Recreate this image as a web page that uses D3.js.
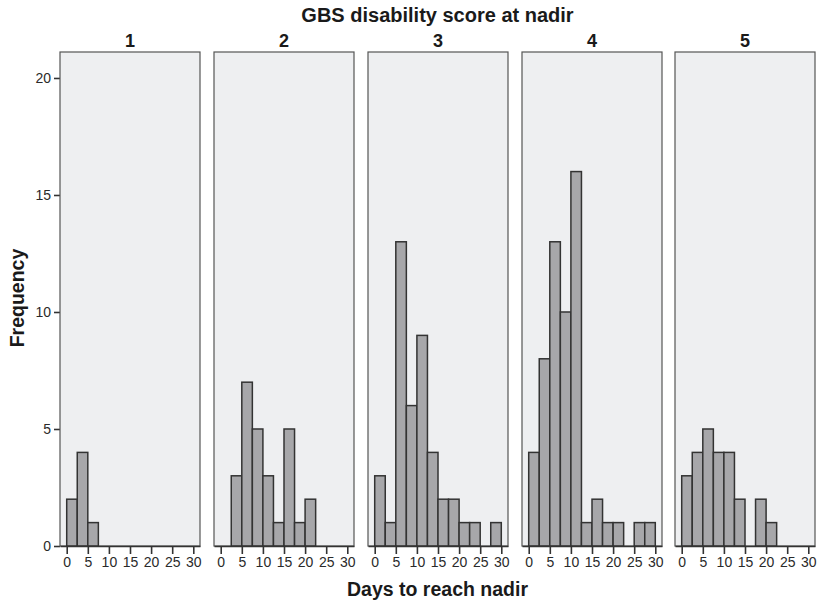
<!DOCTYPE html>
<html>
<head>
<meta charset="utf-8">
<script src="https://cdn.jsdelivr.net/npm/d3@7"></script>
<style>
  body { margin: 0; background: #fff; }
  svg { font-family: "Liberation Sans", Arial, sans-serif; }
</style>
</head>
<body>
<div id="chart"></div>
<script>
// bins are 2.5 days wide, starting at 0
const binStarts = [0, 2.5, 5, 7.5, 10, 12.5, 15, 17.5, 20, 22.5, 25, 27.5];
const binWidth = 2.5;
const scores = ["1", "2", "3", "4", "5"];
const counts1 = [2, 4, 1, 0, 0, 0, 0, 0, 0, 0, 0, 0];
const counts2 = [0, 3, 7, 5, 3, 1, 5, 1, 2, 0, 0, 0];
const counts3 = [3, 1, 13, 6, 9, 4, 2, 2, 1, 1, 0, 1];
const counts4 = [4, 8, 13, 10, 16, 1, 2, 1, 1, 0, 1, 1];
const counts5 = [3, 4, 5, 4, 4, 2, 0, 2, 1, 0, 0, 0];
const xTicks = [0, 5, 10, 15, 20, 25, 30];
const yTicks = [0, 5, 10, 15, 20];

const allCounts = [counts1, counts2, counts3, counts4, counts5];

const W = 817, H = 601;
const panelLefts = [60, 214, 368, 522, 675];
const panelW = 140;
const plotTop = 52, plotBottom = 546;

const svg = d3.select("#chart").append("svg")
    .attr("width", W).attr("height", H);

const y = d3.scaleLinear().domain([0, 21.11]).range([plotBottom, plotTop]);

// overall title
svg.append("text")
    .attr("x", 437.5).attr("y", 22)
    .attr("text-anchor", "middle")
    .attr("font-size", 20).attr("font-weight", "bold").attr("fill", "#1a1a1a")
    .text("GBS disability score at nadir");

// y axis
const yAxis = svg.append("g")
    .attr("transform", "translate(" + panelLefts[0] + ",0)")
    .call(d3.axisLeft(y).tickValues(yTicks).tickSize(6).tickPadding(3).tickSizeOuter(0));
yAxis.select(".domain").remove();
yAxis.selectAll("line").attr("stroke", "#333").attr("stroke-width", 1.6);
yAxis.selectAll("text").attr("font-size", 14).attr("fill", "#2a2a2a")
    .attr("font-family", "Liberation Sans, Arial, sans-serif");

svg.append("text")
    .attr("transform", "translate(24,298) rotate(-90)")
    .attr("text-anchor", "middle")
    .attr("font-size", 19.5).attr("font-weight", "bold").attr("fill", "#1a1a1a")
    .text("Frequency");

scores.forEach((s, i) => {
    const x0 = panelLefts[i];
    const x = d3.scaleLinear().domain([-1.59, 31.59]).range([x0, x0 + panelW]);
    const g = svg.append("g");

    g.append("rect")
        .attr("x", x0).attr("y", plotTop)
        .attr("width", panelW).attr("height", plotBottom - plotTop)
        .attr("fill", "#eeeff1").attr("stroke", "#555").attr("stroke-width", 1.2);

    g.append("text")
        .attr("x", x0 + panelW / 2).attr("y", 47)
        .attr("text-anchor", "middle")
        .attr("font-size", 18).attr("font-weight", "bold").attr("fill", "#1a1a1a")
        .text(s);

    const data = binStarts.map((b, j) => ({ b: b, n: allCounts[i][j] })).filter(d => d.n > 0);
    g.selectAll("rect.bar").data(data).enter().append("rect")
        .attr("class", "bar")
        .attr("x", d => x(d.b))
        .attr("width", d => x(d.b + binWidth) - x(d.b))
        .attr("y", d => y(d.n))
        .attr("height", d => y(0) - y(d.n))
        .attr("fill", "#a7a7aa").attr("stroke", "#333").attr("stroke-width", 1.5);

    const xAxis = g.append("g")
        .attr("transform", "translate(0," + plotBottom + ")")
        .call(d3.axisBottom(x).tickValues(xTicks).tickSize(8).tickPadding(3).tickSizeOuter(0));
    xAxis.select(".domain").attr("stroke", "#333").attr("stroke-width", 1.6);
    xAxis.selectAll("line").attr("stroke", "#333").attr("stroke-width", 1.6);
    xAxis.selectAll("text").attr("font-size", 14).attr("fill", "#2a2a2a")
        .attr("font-family", "Liberation Sans, Arial, sans-serif");
});

svg.append("text")
    .attr("x", 437.5).attr("y", 596)
    .attr("text-anchor", "middle")
    .attr("font-size", 19.5).attr("font-weight", "bold").attr("fill", "#1a1a1a")
    .text("Days to reach nadir");
</script>
</body>
</html>
